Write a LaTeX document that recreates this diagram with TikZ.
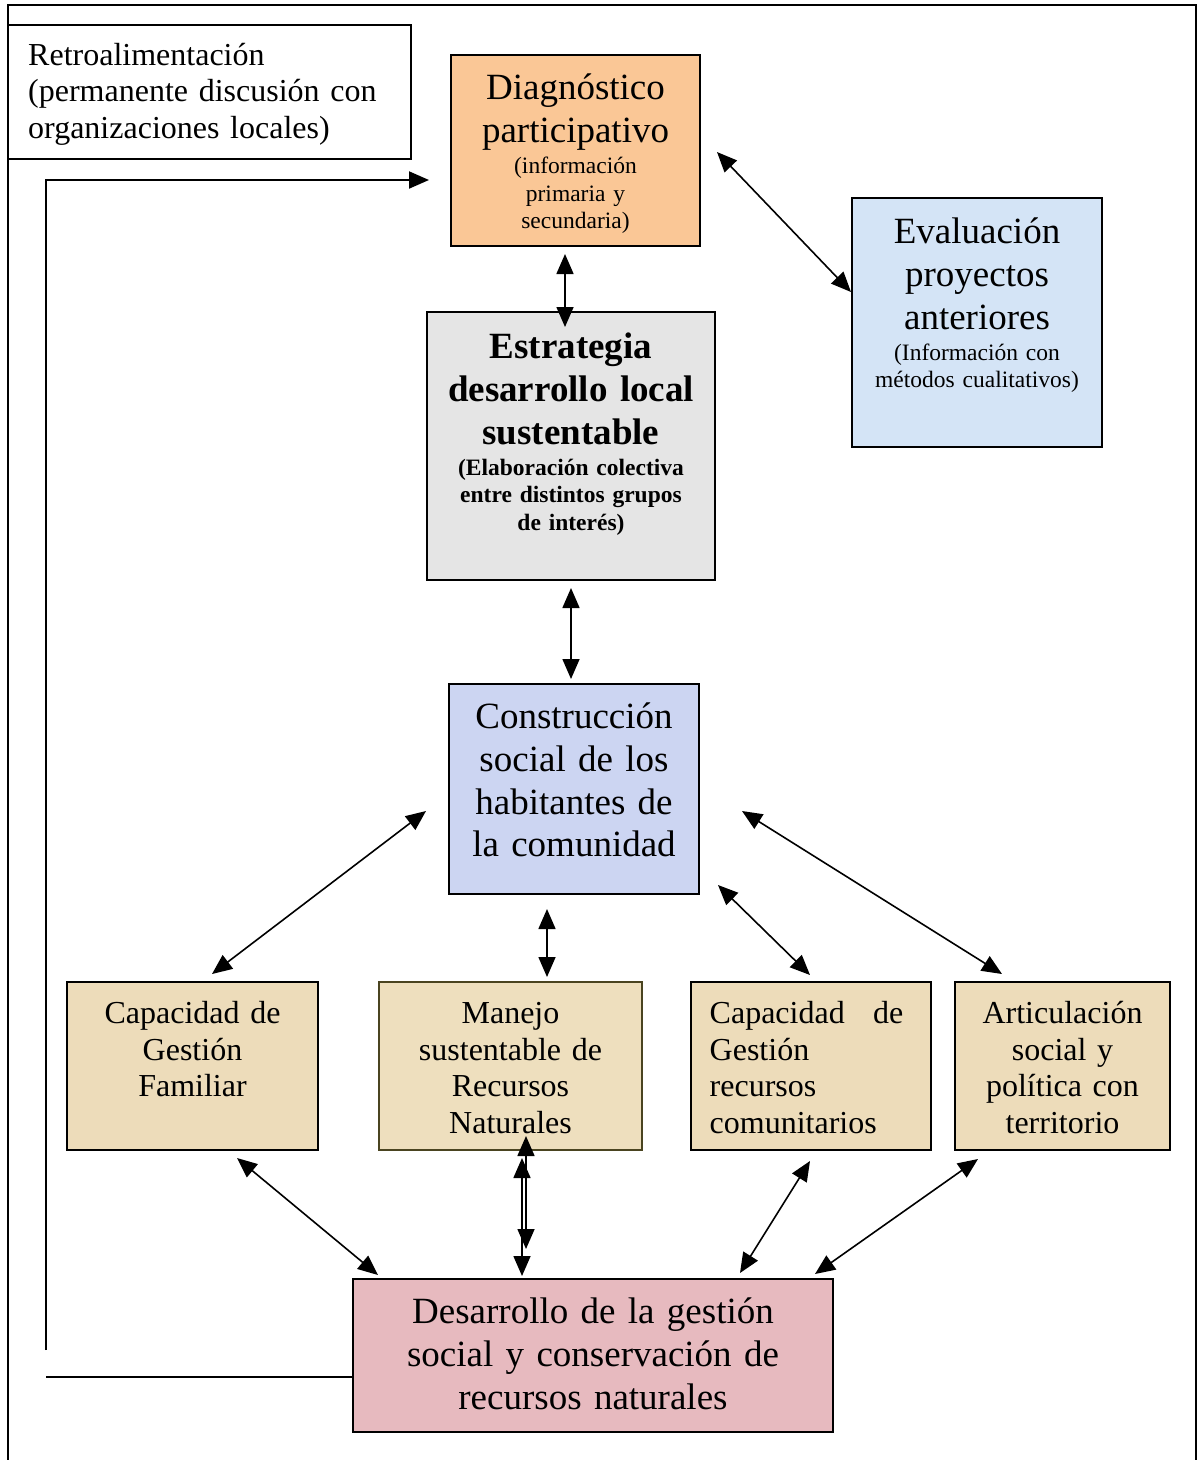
\documentclass[tikz,border=0pt]{standalone}
\usepackage{fontspec}
\setmainfont{Liberation Serif}
\usetikzlibrary{arrows.meta,calc}
\definecolor{diagfill}{HTML}{FAC796}
\definecolor{evalfill}{HTML}{D4E4F6}
\definecolor{estrfill}{HTML}{E5E5E5}
\definecolor{consfill}{HTML}{CCD5F2}
\definecolor{beigefill}{HTML}{EDDCBA}
\definecolor{manfill}{HTML}{EEDFBE}
\definecolor{desafill}{HTML}{E7BABF}
\definecolor{olive}{HTML}{4A4420}
\newcommand\FBig{\fontsize{37}{42.8}\selectfont}
\newcommand\FSmall{\fontsize{23.5}{27.5}\selectfont}
\newcommand\FMid{\fontsize{32}{36.7}\selectfont}
\newcommand\TopStrut{\rule{0pt}{0.8em}}
\begin{document}
\begin{tikzpicture}[x=1pt,y=-1pt,
  box/.style={draw, line width=2pt, inner sep=0pt, anchor=center},
  txt/.style={inner sep=0pt, anchor=north, align=center, text width=#1},
  conn/.style={<->, line width=1.6pt},
  >={Triangle[length=20pt,width=17pt]}]
\useasboundingbox (0,0) rectangle (1200,1460);
% outer frame
\draw[line width=2pt] (8,1460) -- (8,5) -- (1196,5) -- (1196,1460);
% boxes
\node[box, line width=1.5pt, fill=white, minimum width=403pt, minimum height=134pt] (retro) at (209.5,92) {};
\node[box, fill=diagfill, minimum width=249pt, minimum height=191pt] (diag) at (575.5,150.5) {};
\node[box, fill=evalfill, minimum width=250pt, minimum height=249pt] (eval) at (977,322.5) {};
\node[box, fill=estrfill, minimum width=288pt, minimum height=268pt] (estr) at (571,446) {};
\node[box, fill=consfill, minimum width=250pt, minimum height=210pt] (cons) at (574,789) {};
\node[box, fill=beigefill, minimum width=251pt, minimum height=168pt] (capf) at (192.5,1066) {};
\node[box, draw=olive, fill=manfill, minimum width=263pt, minimum height=168pt] (manejo) at (510.5,1066) {};
\node[box, fill=beigefill, minimum width=240pt, minimum height=168pt] (capc) at (811,1066) {};
\node[box, fill=beigefill, minimum width=215pt, minimum height=168pt] (artic) at (1062.5,1066) {};
\node[box, fill=desafill, minimum width=480pt, minimum height=153pt] (desa) at (593,1355.5) {};
% texts
\node[txt=380pt, align=left, anchor=north west, font=\FMid] (retroT) at (28,39.4)
  {\TopStrut Retroalimentación\\(permanente discusión con\\organizaciones locales)};
\node[txt=240pt, font=\FBig] (diagT) at (575.5,69.4) {\TopStrut Diagnóstico\\participativo};
\node[txt=240pt, font=\FSmall] (diagS) at (575.5,154.7) {\TopStrut (información\\primaria y\\secundaria)};
\node[txt=240pt, font=\FBig] (evalT) at (977,213.7) {\TopStrut Evaluación\\proyectos\\anteriores};
\node[txt=240pt, font=\FSmall] (evalS) at (977,341) {\TopStrut (Información con\\métodos cualitativos)};
\node[txt=280pt, font=\FBig\bfseries] (estrT) at (571,328.7) {\TopStrut Estrategia\\desarrollo local\\sustentable};
\node[txt=280pt, font=\FSmall\bfseries] (estrS) at (571,456.2) {\TopStrut (Elaboración colectiva\\entre distintos grupos\\de interés)};
\node[txt=240pt, font=\FBig] (consT) at (574,698.7) {\TopStrut Construcción\\social de los\\habitantes de\\la comunidad};
\node[txt=240pt, font=\FMid] (capfT) at (192.5,997.7) {\TopStrut Capacidad de\\Gestión\\Familiar};
\node[txt=255pt, font=\FMid] (manT) at (510.5,997.7) {\TopStrut Manejo\\sustentable de\\Recursos\\Naturales};
\node[txt=193.5pt, align=left, anchor=north west, font=\FMid] (capcT) at (709.5,997.7)
  {\TopStrut Capacidad\hfill de\\Gestión\\recursos\\comunitarios};
\node[txt=210pt, font=\FMid] (articT) at (1062.5,997.7) {\TopStrut Articulación\\social y\\política con\\territorio};
\node[txt=470pt, font=\FBig] (desaT) at (593,1293.7) {\TopStrut Desarrollo de la gestión\\social y conservación de\\recursos naturales};
% connectors
\draw[conn] ([shift={(-10.5,7)}]diag.south) -- ([shift={(-6,16)}]estr.north);
\draw[conn] ([shift={(16,1.5)}]diag.east) -- ([shift={(0,-30.5)}]eval.west);
\draw[conn] ([shift={(0,7)}]estr.south) -- ([shift={(-3,-4)}]cons.north);
\draw[conn] ([shift={(-22,22)}]cons.west) -- ([shift={(19.5,-7)}]capf.north);
\draw[conn] ([shift={(-27,14)}]cons.south) -- ([shift={(36.5,-4)}]manejo.north);
\draw[conn] ([shift={(18,-10)}]cons.south east) -- ([shift={(-1,-6)}]capc.north);
\draw[conn] ([shift={(42,22)}]cons.east) -- ([shift={(-60.5,-7)}]artic.north);
\draw[conn] ([shift={(44.5,7)}]capf.south) -- ([shift={(-215,-3)}]desa.north);
\draw[conn] ([shift={(15.5,-15)}]manejo.south) -- ([shift={(-67,-29)}]desa.north);
\draw[conn] ([shift={(11.5,7)}]manejo.south) -- ([shift={(-71,-2)}]desa.north);
\draw[conn] ([shift={(-1,10)}]capc.south) -- ([shift={(147,-5)}]desa.north);
\draw[conn] ([shift={(-84.5,8)}]artic.south) -- ([shift={(222,-4)}]desa.north);
% feedback loop
\coordinate (fbstart) at (46,1350);
\coordinate (fbend) at (46,1377);
\draw[->, line width=2pt] (fbstart) |- ([shift={(-21,29.5)}]diag.west);
\draw[line width=2pt] (fbend) -- ([shift={(0,21.5)}]desa.west);
\end{tikzpicture}
\end{document}
